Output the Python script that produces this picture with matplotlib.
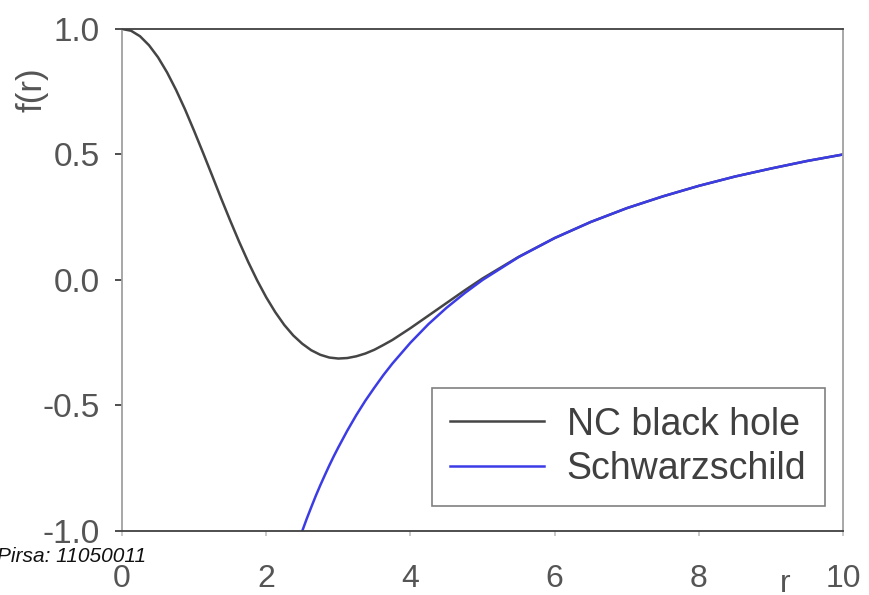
import matplotlib
matplotlib.use("Agg")
import matplotlib.pyplot as plt

plt.rcParams['font.family'] = ['Liberation Sans', 'DejaVu Sans']

# metric function of the noncommutative-geometry black hole
r_nc = [0.0, 0.125, 0.25, 0.375, 0.5, 0.625, 0.75, 0.875, 1.0, 1.125, 1.25,
        1.375, 1.5, 1.625, 1.75, 1.875, 2.0, 2.125, 2.25, 2.375, 2.5, 2.625,
        2.75, 2.875, 3.0, 3.125, 3.25, 3.375, 3.5, 3.625, 3.75, 4.0, 4.25,
        4.5, 4.75, 5.0, 5.5, 6.0, 6.5, 7.0, 7.5, 8.0, 8.5, 9.0, 9.5, 10.0]
f_nc = [1.0, 0.993, 0.971, 0.935, 0.887, 0.827, 0.757, 0.679, 0.594, 0.506,
        0.416, 0.325, 0.237, 0.152, 0.072, -0.002, -0.069, -0.128, -0.179,
        -0.221, -0.254, -0.280, -0.298, -0.309, -0.313, -0.311, -0.304,
        -0.293, -0.278, -0.259, -0.239, -0.192, -0.142, -0.092, -0.042,
        0.006, 0.092, 0.167, 0.231, 0.286, 0.333, 0.375, 0.412, 0.444,
        0.474, 0.5]

# classical Schwarzschild metric function
r_s = [2.5, 2.5625, 2.625, 2.6875, 2.75, 2.8125, 2.875, 2.9375, 3.0, 3.125,
       3.25, 3.375, 3.5, 3.625, 3.75, 4.0, 4.25, 4.5, 4.75, 5.0, 5.5, 6.0,
       6.5, 7.0, 7.5, 8.0, 8.5, 9.0, 9.5, 10.0]
f_s = [-1.0, -0.951, -0.905, -0.860, -0.818, -0.778, -0.739, -0.702, -0.667,
       -0.6, -0.538, -0.481, -0.429, -0.379, -0.333, -0.25, -0.176, -0.111,
       -0.053, 0.0, 0.091, 0.167, 0.231, 0.286, 0.333, 0.375, 0.412, 0.444,
       0.474, 0.5]

x_ticks = [0, 2, 4, 6, 8, 10]
y_ticks = [-1.0, -0.5, 0.0, 0.5, 1.0]

fig = plt.figure(figsize=(8.69, 5.95), dpi=100)
ax = fig.add_axes([0.1404, 0.1076, 0.8297, 0.8437])

ax.plot(r_nc, f_nc, color='#454545', lw=1.8, label='NC black hole')
ax.plot(r_s, f_s, color='#3c3ce6', lw=1.8, label='Schwarzschild')

ax.set_xlim(0, 10)
ax.set_ylim(-1.0, 1.0)
ax.set_xticks(x_ticks)
ax.set_yticks(y_ticks)
ax.set_yticklabels(['%.1f' % v for v in y_ticks])

for side in ['top', 'bottom']:
    ax.spines[side].set_color('#404040')
    ax.spines[side].set_linewidth(1.3)
for side in ['left', 'right']:
    ax.spines[side].set_color('#a0a0a0')
    ax.spines[side].set_linewidth(1.3)

ax.tick_params(axis='x', direction='out', length=3.6, width=1.2,
               color='#c0c0c0', pad=20, labelsize=23, labelcolor='#555555')
ax.tick_params(axis='y', direction='out', length=5, width=1.3,
               color='#404040', pad=11, labelsize=24, labelcolor='#555555')

ax.text(9.2, -1.245, 'r', fontsize=23, color='#555555', ha='center',
        va='baseline', clip_on=False)
fig.text(0.037, 0.85, 'f(r)', fontsize=25, color='#555555', rotation=90,
         ha='center', va='center')

leg = ax.legend(loc='lower right', bbox_to_anchor=(0.975, 0.05),
                borderaxespad=0, fontsize=27, frameon=True, fancybox=False,
                handlelength=2.5, handletextpad=0.6, borderpad=0.5,
                labelspacing=0.23)
leg.get_frame().set_edgecolor('#606060')
leg.get_frame().set_linewidth(1.2)
for t in leg.get_texts():
    t.set_color('#404040')

fig.text(-0.004, 0.064, 'Pirsa: 11050011', fontsize=15, style='italic',
         color='#111111', ha='left', va='center')

fig.savefig('out.png', dpi=100)
